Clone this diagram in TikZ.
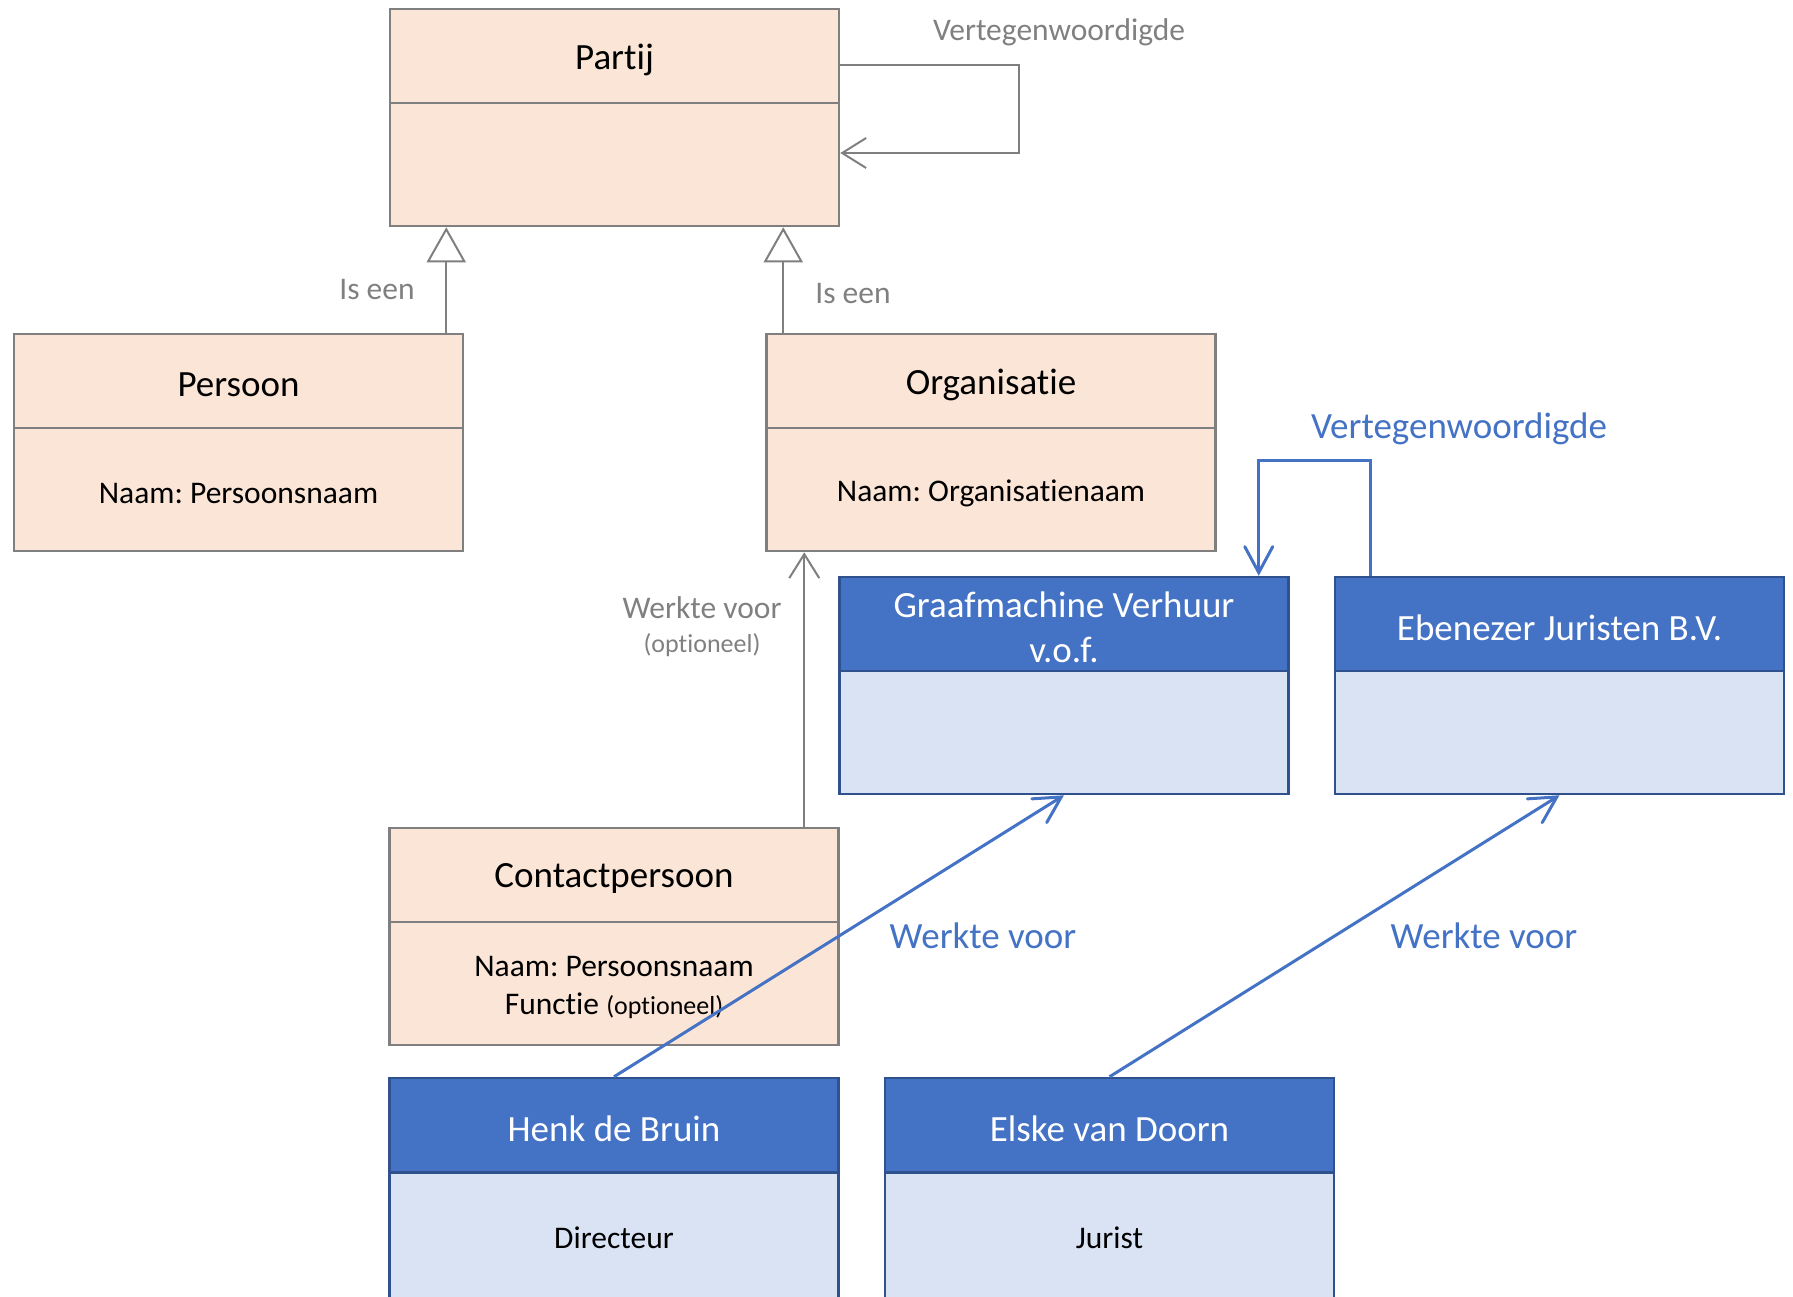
\documentclass[tikz,border=0pt]{standalone}
\usepackage{fontspec}
\setmainfont{Carlito}[Ligatures=NoCommon]
\frenchspacing
\usetikzlibrary{arrows.meta}
\definecolor{cPeach}{HTML}{FBE5D6}
\definecolor{cGB}{HTML}{7F7F7F}
\definecolor{cGT}{HTML}{808080}
\definecolor{cBH}{HTML}{4472C4}
\definecolor{cBB}{HTML}{2F528F}
\definecolor{cBL}{HTML}{DAE3F3}
\newcommand\myTitle{\fontsize{37}{45}\selectfont}
\newcommand\myAttr{\fontsize{31.5}{38}\selectfont}
\newcommand\mySmall{\fontsize{26}{30}\selectfont}
% name, cx, top, title, body, kind (p/b)
\newcommand\umlclass[6]{%
  \node[#6head, label={[#6htext]center:#4}] (#1-h) at (#2,#3+47) {};
  \node[#6body, label={[#6btext]center:#5}] (#1-b) at (#2,#3+155.5) {};
}
\tikzset{
  box/.style={line width=2.5pt, minimum width=449pt, inner sep=0pt},
  txt/.style={inner sep=0pt, align=center, yshift=-3.5pt},
  phead/.style={box, draw=cGB, fill=cPeach, minimum height=94pt},
  pbody/.style={box, draw=cGB, fill=cPeach, minimum height=123pt},
  bhead/.style={box, draw=cBB, fill=cBH, minimum height=94pt},
  bbody/.style={box, draw=cBB, fill=cBL, minimum height=123pt},
  phtext/.style={txt, font=\myTitle},
  pbtext/.style={txt, font=\myAttr, yshift=-0.8pt},
  bhtext/.style={txt, font=\myTitle, text=white},
  bbtext/.style={txt, font=\myAttr},
  gline/.style={draw=cGB, line width=2pt},
  gassoc/.style={gline, -{Straight Barb[length=24pt,width=30pt]}},
  ggen/.style={gline, -{Triangle[length=35pt,width=39pt,fill=white]}},
  bassoc/.style={draw=cBH, line width=3pt, -{Straight Barb[length=26pt,width=28pt,line cap=round]}},
  glabel/.style={text=cGT, font=\myAttr, inner sep=0pt},
  blabel/.style={text=cBH, font=\myTitle, inner sep=0pt},
}
\begin{document}
\begin{tikzpicture}[x=1pt,y=-1pt]
\useasboundingbox (0,0) rectangle (1793,1296);
\umlclass{partij}{614.5}{9}{Partij}{}{p}
\umlclass{persoon}{238.5}{334}{Persoon}{Naam: Persoonsnaam}{p}
\umlclass{org}{991}{334}{Organisatie}{Naam: Organisatienaam}{p}
\umlclass{contact}{614}{828}{Contactpersoon}{Naam: Persoonsnaam\\Functie {\mySmall(optioneel)}}{p}
\umlclass{graaf}{1064}{577}{Graafmachine Verhuur\\v.o.f.}{}{b}
\umlclass{eben}{1559.5}{577}{Ebenezer Juristen B.V.}{}{b}
% bottom classes run off the lower edge of the picture
\node[bhead, label={[bhtext]center:Henk de Bruin}] (henk-h) at (614,1125) {};
\node[bbody, minimum height=143pt, label={[bbtext, yshift=10pt]center:Directeur}] (henk-b) at (614,1244.5) {};
\node[bhead, label={[bhtext]center:Elske van Doorn}] (elske-h) at (1109.5,1125) {};
\node[bbody, minimum height=143pt, label={[bbtext, yshift=10pt]center:Jurist}] (elske-b) at (1109.5,1244.5) {};

% grey connectors
\draw[gassoc] ([yshift=-9pt]partij-h.east) -- ++(179,0) |- ([yshift=11.5pt]partij-b.east);
\draw[ggen] ([xshift=-18pt]persoon-h.north east) -- ([xshift=-18pt]persoon-h.north east |- partij-b.south);
\draw[ggen] ([xshift=18pt]org-h.north west) -- ([xshift=18pt]org-h.north west |- partij-b.south);
\draw[gassoc] ([xshift=-35.5pt]contact-h.north east) -- ([xshift=-35.5pt]contact-h.north east |- org-b.south);

% blue connectors
\draw[bassoc] ([xshift=37pt]eben-h.north west) -- ++(0,-115) -| ([xshift=-31pt]graaf-h.north east);
\draw[bassoc] (henk-h.north) -- (graaf-b.south);
\draw[bassoc] (elske-h.north) -- (eben-b.south);

% labels
\node[glabel] (lv1) at (1059,32.5) {Vertegenwoordigde};
\node[glabel] (lis1) at (377,290) {Is een};
\node[glabel] (lis2) at (853,294) {Is een};
\node[glabel] (lw1) at (702,608) {Werkte voor};
\node[glabel, font=\mySmall] (lw1b) at (702,645) {(optioneel)};
\node[blabel] (lv2) at (1459,428.5) {Vertegenwoordigde};
\node[blabel] (lw2) at (983,936) {Werkte voor};
\node[blabel] (lw3) at (1484,936) {Werkte voor};
\end{tikzpicture}
\end{document}
